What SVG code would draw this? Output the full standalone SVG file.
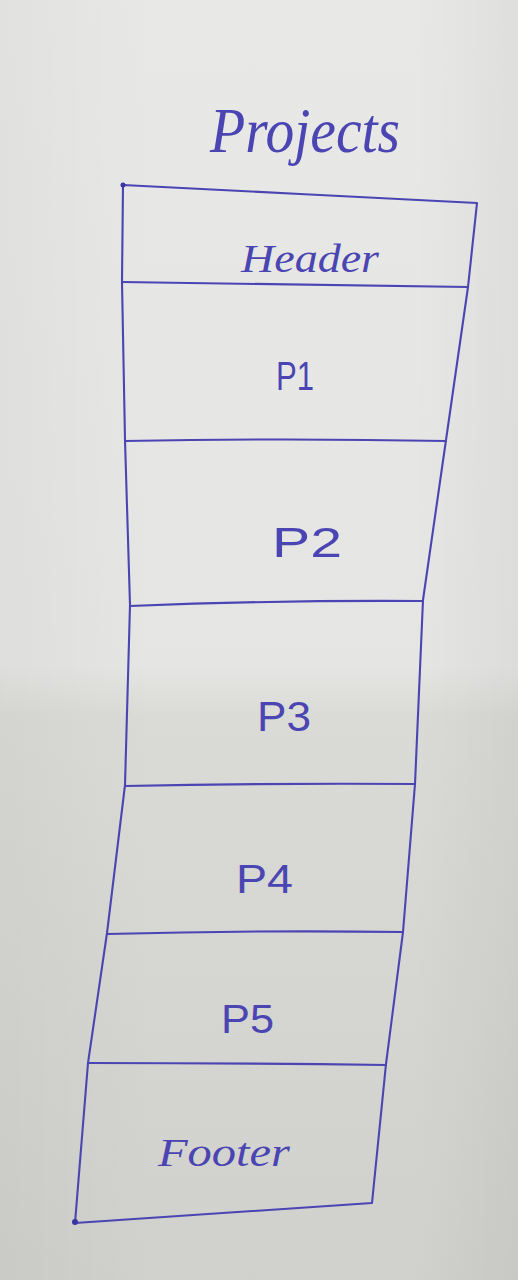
<svg xmlns="http://www.w3.org/2000/svg" width="518" height="1280" viewBox="0 0 518 1280">
<defs>
<linearGradient id="paper" x1="0" y1="0" x2="0" y2="1">
<stop offset="0" stop-color="#e8e8e6"/>
<stop offset="0.52" stop-color="#e5e5e3"/>
<stop offset="0.56" stop-color="#dadad7"/>
<stop offset="1" stop-color="#d0d0cc"/>
</linearGradient>
<linearGradient id="side" x1="0" y1="0" x2="1" y2="0">
<stop offset="0" stop-color="#000" stop-opacity="0.03"/>
<stop offset="0.3" stop-color="#000" stop-opacity="0"/>
<stop offset="0.8" stop-color="#000" stop-opacity="0"/>
<stop offset="1" stop-color="#000" stop-opacity="0.04"/>
</linearGradient>
</defs>
<style>
.pen{fill:none;stroke:#4a45b2;stroke-width:2.1;stroke-linecap:round;stroke-linejoin:round}
.lbl{font-family:"Liberation Sans","DejaVu Sans",sans-serif;fill:#4a45b2}
.cur{font-family:"Liberation Serif","DejaVu Serif",serif;fill:#4a45b2;font-style:italic}
</style>
<rect width="518" height="1280" fill="url(#paper)"/>
<rect width="518" height="1280" fill="url(#side)"/>

<g id="frame">
<polyline class="pen" points="123,185 300,194 477,203 468,287 446,440 423,600 415,784 403,932 386,1064 372,1203 75,1223 88,1063 107,933 125,785 130,605 125,440 122,282 123,185"/>
<circle cx="123" cy="185" r="2.5" fill="#3a35a0"/>
<circle cx="75" cy="1222" r="3" fill="#3a35a0"/>
</g>

<g id="dividers">
<path class="pen" d="M122 282 Q300 284 468 287"/>
<path class="pen" d="M125 441 Q290 438 446 441"/>
<path class="pen" d="M130 606 Q280 600 423 601"/>
<path class="pen" d="M125 786 Q270 783 415 784"/>
<path class="pen" d="M107 934 Q260 930 403 932"/>
<path class="pen" d="M88 1063 Q240 1063 386 1065"/>
</g>

<g id="title">
<text class="cur" x="210" y="152" font-size="64" textLength="190" lengthAdjust="spacingAndGlyphs">Projects</text>
</g>
<g id="header">
<text class="cur" x="241" y="272" font-size="40" textLength="138" lengthAdjust="spacingAndGlyphs">Header</text>
</g>
<g id="p1">
<text class="lbl" x="276" y="390" font-size="40" textLength="38" lengthAdjust="spacingAndGlyphs">P1</text>
</g>
<g id="p2">
<text class="lbl" x="272" y="557" font-size="42" textLength="70" lengthAdjust="spacingAndGlyphs">P2</text>
</g>
<g id="p3">
<text class="lbl" x="257" y="731" font-size="42" textLength="54" lengthAdjust="spacingAndGlyphs">P3</text>
</g>
<g id="p4">
<text class="lbl" x="236" y="893" font-size="40" textLength="57" lengthAdjust="spacingAndGlyphs">P4</text>
</g>
<g id="p5">
<text class="lbl" x="221" y="1033" font-size="40" textLength="53" lengthAdjust="spacingAndGlyphs">P5</text>
</g>
<g id="footer">
<text class="cur" x="158" y="1166" font-size="40" textLength="132" lengthAdjust="spacingAndGlyphs">Footer</text>
</g>
</svg>
